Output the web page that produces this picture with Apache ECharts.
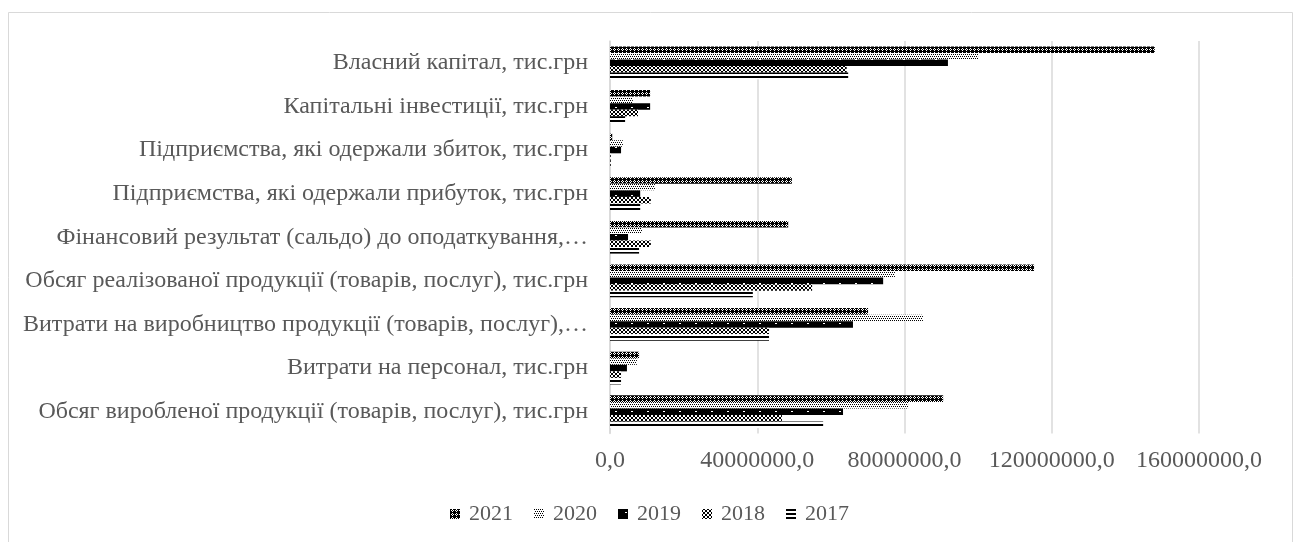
<!DOCTYPE html>
<html>
<head>
<meta charset="utf-8">
<script src="https://cdn.jsdelivr.net/npm/echarts@6/dist/echarts.min.js"></script>
<style>
    html, body { margin: 0; padding: 0; background: #fff; }
    #chart { width: 1299px; height: 542px; }
</style>
</head>
<body>
<div id="chart"></div>
<script>
    // categories, bottom to top as on the axis
    const categories = [
        'Обсяг виробленої продукції (товарів, послуг), тис.грн',
        'Витрати на персонал, тис.грн',
        'Витрати на виробництво продукції (товарів, послуг),…',
        'Обсяг реалізованої продукції (товарів, послуг), тис.грн',
        'Фінансовий результат (сальдо) до оподаткування,…',
        'Підприємства, які одержали прибуток, тис.грн',
        'Підприємства, які одержали збиток, тис.грн',
        'Капітальні інвестиції, тис.грн',
        'Власний капітал, тис.грн'
    ]
    const years = ['2021', '2020', '2019', '2018', '2017']

    const v2021 = [90500000, 7900000, 70100000, 115200000, 48400000, 49400000, 600000, 10900000, 148000000]
    const v2020 = [81000000, 7300000, 85000000, 77400000, 8700000, 12200000, 3500000, 6200000, 100000000]
    const v2019 = [63300000, 4600000, 66000000, 74200000, 4900000, 8200000, 3000000, 10900000, 91800000]
    const v2018 = [46700000, 3000000, 43200000, 54900000, 11100000, 11100000, 200000, 7600000, 64300000]
    const v2017 = [57900000, 3000000, 43200000, 38800000, 7900000, 8200000, 200000, 4100000, 64700000]

    const xTicks = [0, 40000000, 80000000, 120000000, 160000000]

    // black & white fill patterns, '#' = black pixel
    function makePattern(rows){
        let c = document.createElement('canvas')
        c.width = rows[0].length
        c.height = rows.length
        let ctx = c.getContext('2d')
        ctx.fillStyle = '#ffffff'
        ctx.fillRect(0, 0, c.width, c.height)
        ctx.fillStyle = '#000000'
        rows.forEach((r, y) => {
            for (let x = 0; x < r.length; x++) {
                if (r[x] === '#') ctx.fillRect(x, y, 1, 1)
            }
        })
        return {image: c, repeat: 'repeat'}
    }

    function dotRows(){
        let rows = []
        for (let y = 0; y < 8; y++) {
            let s = ''
            for (let x = 0; x < 16; x++) {
                s += (y === 3 && (x === 7 || x === 8)) ? '.' : '#'
            }
            rows.push(s)
        }
        return rows
    }

    const patterns = [
        makePattern(['##.#', '#.#.', '##.#', '####']),
        makePattern(['#.#.', '....', '.#.#', '....']),
        makePattern(dotRows()),
        makePattern(['.##.', '#..#', '#..#', '.##.']),
        makePattern(['#', '#', '.', '.'])
    ]
    const values = [v2021, v2020, v2019, v2018, v2017]

    const font = 'Liberation Serif'
    let chart = echarts.init(document.getElementById('chart'))
    let options = {
        animation: false,
        backgroundColor: '#ffffff',
        graphic: [{
            type: 'rect',
            shape: {x: 8.5, y: 12.5, width: 1284, height: 540},
            style: {fill: 'none', stroke: '#d9d9d9', lineWidth: 1}
        }],
        textStyle: {fontFamily: font},
        legend: {
            data: years,
            top: 498,
            left: 'center',
            icon: 'rect',
            itemWidth: 10,
            itemHeight: 10,
            itemGap: 21,
            textStyle: {fontFamily: font, fontSize: 22, color: '#595959', padding: [0, 0, 0, 4]}
        },
        grid: {
            left: 610,
            right: 100,
            top: 41,
            bottom: 108.5,
            containLabel: false
        },
        xAxis: {
            type: 'value',
            min: xTicks[0],
            max: xTicks[xTicks.length - 1],
            interval: xTicks[1] - xTicks[0],
            axisLine: {show: false},
            axisTick: {show: false},
            splitLine: {lineStyle: {color: '#d9d9d9', width: 1.5}},
            axisLabel: {
                margin: 15,
                fontFamily: font,
                fontSize: 24,
                color: '#595959',
                formatter: (value) => `${value},0`
            }
        },
        yAxis: {
            type: 'category',
            data: categories,
            axisLine: {lineStyle: {color: '#d9d9d9', width: 1.5}},
            axisTick: {show: false},
            axisLabel: {
                margin: 22,
                fontFamily: font,
                fontSize: 24,
                color: '#595959'
            }
        },
        series: years.map((y, i) => {
            return {
                name: y,
                type: 'bar',
                data: values[i],
                barGap: '0%',
                barCategoryGap: '25%',
                itemStyle: {color: patterns[i]}
            }
        })
    }
    chart.setOption(options)
</script>
</body>
</html>
